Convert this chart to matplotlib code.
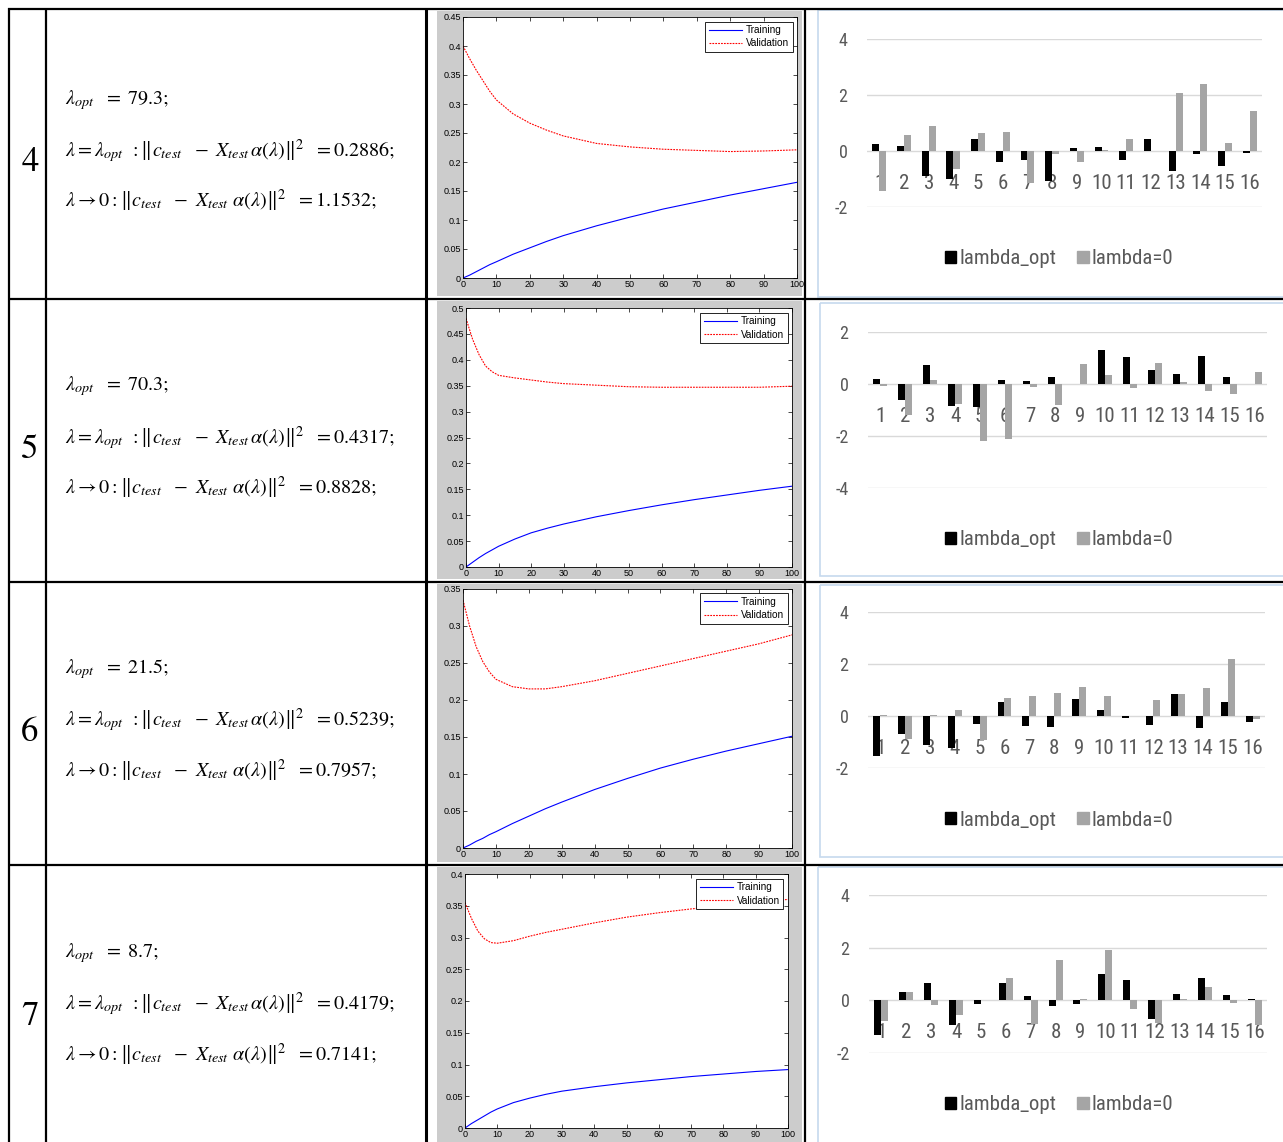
import numpy as np
import matplotlib
matplotlib.use("Agg")
import matplotlib.pyplot as plt
from matplotlib.patches import Rectangle, Patch
from matplotlib.ticker import FuncFormatter
from matplotlib import font_manager as fm

W, H, DPI = 1283, 1142, 100
plt.rcParams['mathtext.fontset'] = 'stix'
plt.rcParams['axes.unicode_minus'] = False

# ---------------- data ----------------
row_ids = [4, 5, 6, 7]
lambda_opt = ['79.3', '70.3', '21.5', '8.7']
err_opt = ['0.2886', '0.4317', '0.5239', '0.4179']
err_zero = ['1.1532', '0.8828', '0.7957', '0.7141']

curve_x = [0, 2, 4, 6, 8, 10, 15, 20, 25, 30, 40, 50, 60, 70, 80, 90, 100]

train_4 = [0, 0.005, 0.011, 0.017, 0.023, 0.028, 0.041, 0.052, 0.063, 0.073,
           0.090, 0.105, 0.119, 0.131, 0.143, 0.154, 0.165]
valid_4 = [0.400, 0.378, 0.358, 0.340, 0.322, 0.307, 0.283, 0.267, 0.255, 0.245,
           0.232, 0.226, 0.222, 0.220, 0.218, 0.219, 0.221]
train_5 = [0, 0.009, 0.018, 0.026, 0.033, 0.040, 0.054, 0.066, 0.075, 0.083,
           0.097, 0.109, 0.120, 0.130, 0.139, 0.148, 0.156]
valid_5 = [0.480, 0.440, 0.410, 0.388, 0.377, 0.370, 0.365, 0.361, 0.357, 0.354,
           0.351, 0.348, 0.347, 0.347, 0.347, 0.347, 0.349]
train_6 = [0, 0.004, 0.009, 0.013, 0.018, 0.022, 0.033, 0.043, 0.053, 0.062,
           0.079, 0.094, 0.108, 0.120, 0.131, 0.141, 0.151]
valid_6 = [0.335, 0.300, 0.272, 0.252, 0.238, 0.228, 0.218, 0.215, 0.215, 0.218,
           0.226, 0.236, 0.246, 0.256, 0.266, 0.276, 0.288]
train_7 = [0, 0.007, 0.013, 0.019, 0.025, 0.030, 0.040, 0.047, 0.053, 0.058,
           0.065, 0.071, 0.076, 0.081, 0.085, 0.089, 0.092]
valid_7 = [0.355, 0.330, 0.310, 0.298, 0.292, 0.291, 0.295, 0.302, 0.308, 0.313,
           0.323, 0.332, 0.339, 0.345, 0.350, 0.355, 0.360]
curve_ymax = [0.45, 0.5, 0.35, 0.4]

coef_labels = [str(i) for i in range(1, 17)]
opt_4 = [0.24, 0.18, -0.89, -0.99, 0.44, -0.39, -0.30, -1.07,
         0.11, 0.15, -0.30, 0.44, -0.71, -0.10, -0.52, -0.07]
zero_4 = [-1.43, 0.57, 0.89, -0.62, 0.65, 0.70, -1.13, -0.10,
          -0.39, 0.06, 0.43, 0.0, 2.06, 2.38, 0.30, 1.45]
opt_5 = [0.19, -0.62, 0.73, -0.87, -0.90, 0.15, 0.09, 0.26,
         0.0, 1.31, 1.01, 0.53, 0.38, 1.06, 0.24, 0.0]
zero_5 = [-0.10, -1.19, 0.15, -0.77, -2.22, -2.13, -0.13, -0.81,
          0.77, 0.33, -0.17, 0.81, 0.06, -0.27, -0.38, 0.44]
opt_6 = [-1.55, -0.72, -1.14, -1.24, -0.30, 0.52, -0.39, -0.43,
         0.63, 0.22, -0.08, -0.34, 0.83, -0.46, 0.54, -0.23]
zero_6 = [0.05, -0.88, 0.05, 0.22, -0.94, 0.67, 0.76, 0.86,
          1.10, 0.76, 0.0, 0.61, 0.85, 1.06, 2.19, -0.13]
opt_7 = [-1.33, 0.32, 0.67, -0.95, -0.13, 0.67, 0.16, -0.23,
         -0.13, 1.01, 0.76, -0.70, 0.25, 0.85, 0.22, 0.06]
zero_7 = [-0.78, 0.32, -0.16, -0.54, 0.0, 0.85, -0.89, 1.54,
          0.06, 1.90, -0.32, -0.86, 0.06, 0.51, -0.10, -0.95]
bar_ylim = [(-2, 4), (-4, 2), (-2, 4), (-2, 4)]
bar_yticks = [[-2, 0, 2, 4], [-4, -2, 0, 2], [-2, 0, 2, 4], [-2, 0, 2, 4]]

trains = [train_4, train_5, train_6, train_7]
valids = [valid_4, valid_5, valid_6, valid_7]
opts = [opt_4, opt_5, opt_6, opt_7]
zeros = [zero_4, zero_5, zero_6, zero_7]

# ---------------- layout (pixel boxes) ----------------
row_edges = [9, 299, 582, 865, 1150]
col_lines = [9, 46, 426, 805]
line_axes = [(463, 17, 797, 278), (466, 308, 792, 567),
             (463, 589, 792, 848), (465, 874, 788, 1128)]
bar_axes = [(867, 39, 1262, 207.3), (868, 331.7, 1267, 487.7),
            (868, 612, 1265, 767.7), (869, 895, 1267, 1053)]
bar_frames = [(818, 10, 1295, 297), (820, 303, 1295, 576),
              (820, 585, 1295, 857), (818, 867, 1295, 1150)]
legend_y = [259, 540, 820, 1105]
EXCEL_TEXT = '#595959'


def narrow_font_path():
    """Regular-weight condensed sans face, if one is installed."""
    cond = ('condensed', 'semi-condensed', 'extra-condensed', 'ultra-condensed')
    best = None
    for f in fm.fontManager.ttflist:
        name = f.name.lower()
        is_narrow = ('narrow' in name or 'condensed' in name
                     or str(f.stretch).lower() in cond
                     or (isinstance(f.stretch, (int, float)) and f.stretch < 500))
        if not is_narrow or f.style != 'normal':
            continue
        if f.weight not in (400, 'normal', 'regular', 'book'):
            continue
        if 'mono' in name or 'serif' in name and 'sans' not in name:
            continue
        best = f.fname
        if 'liberation' in name:
            break
    return best


_np = narrow_font_path()
if _np:
    def excel_font(size):
        return fm.FontProperties(fname=_np, size=size)
    cat_size, ylab_size, leg_size = 15, 13, 15
else:
    def excel_font(size):
        return fm.FontProperties(family='Liberation Sans', size=size)
    cat_size, ylab_size, leg_size = 12.5, 12, 13.5


def rect(x0, y0, x1, y1):
    return [x0 / W, 1 - y1 / H, (x1 - x0) / W, (y1 - y0) / H]


fig = plt.figure(figsize=(W / DPI, H / DPI), dpi=DPI)
bg = fig.add_axes([0, 0, 1, 1])
bg.set_xlim(0, W)
bg.set_ylim(H, 0)
bg.axis('off')

for i in range(4):
    top, bot = row_edges[i], row_edges[i + 1]
    mid = (top + bot) / 2
    # row number
    bg.text(30, mid + 9, str(row_ids[i]), fontsize=25, family='STIXGeneral',
            ha='center', va='center')
    # formulas
    bg.text(65, mid - 54, r"$\lambda_{opt}\ \ =\ %s;$" % lambda_opt[i],
            fontsize=14.5, va='center', ha='left')
    bg.text(65, mid - 3,
            r"$\lambda = \lambda_{opt}\ \,:\left\Vert c_{test}\ \ -\ X_{test}\,\alpha(\lambda)\right\Vert^{2}\ \ = %s;$"
            % err_opt[i],
            fontsize=14.5, va='center', ha='left')
    bg.text(65, mid + 47,
            r"$\lambda \rightarrow 0:\left\Vert c_{test}\ \ -\ X_{test}\ \alpha(\lambda)\right\Vert^{2}\ \ = %s;$"
            % err_zero[i],
            fontsize=14.5, va='center', ha='left')
    # MATLAB figure background
    bg.add_patch(Rectangle((437, top + 2), 365, bot - top - 5, color='#cccccc', lw=0))
    # Excel chart frame
    fx0, fy0, fx1, fy1 = bar_frames[i]
    bg.add_patch(Rectangle((fx0, fy0), fx1 - fx0, fy1 - fy0, fill=False,
                           edgecolor='#c6d9ee', lw=1.2))

# ---------------- training / validation curves ----------------
for i in range(4):
    ax = fig.add_axes(rect(*line_axes[i]))
    ax.plot(curve_x, trains[i], color='blue', lw=0.8, label='Training')
    ax.plot(curve_x, valids[i], color='red', lw=0.8, linestyle=(0, (1.6, 1.0)),
            label='Validation')
    ax.set_xlim(0, 100)
    ax.set_ylim(0, curve_ymax[i])
    ax.set_xticks(np.arange(0, 101, 10))
    ax.set_yticks(np.arange(0, curve_ymax[i] + 1e-9, 0.05))
    ax.yaxis.set_major_formatter(FuncFormatter(lambda v, p: '%g' % round(v, 2)))
    ax.tick_params(direction='in', top=True, right=True, length=3, width=0.5,
                   labelsize=6.5, pad=1.5, colors='black')
    for lab in ax.get_xticklabels() + ax.get_yticklabels():
        lab.set_family('Liberation Sans')
    for s in ax.spines.values():
        s.set_linewidth(0.6)
    leg = ax.legend(loc='upper right', handlelength=3.3,
                    handletextpad=0.4, borderpad=0.35, labelspacing=0.35,
                    fancybox=False, framealpha=1, borderaxespad=0.45,
                    prop={'family': 'Liberation Sans', 'size': 7.2})
    leg.get_frame().set_edgecolor('black')
    leg.get_frame().set_linewidth(0.6)

# ---------------- coefficient bars ----------------
xpos = np.arange(len(coef_labels))
bw = 0.28
for i in range(4):
    ax = fig.add_axes(rect(*bar_axes[i]))
    ax.bar(xpos - bw / 2, opts[i], bw, color='black', label='lambda_opt')
    ax.bar(xpos + bw / 2, zeros[i], bw, color='#a5a5a5', label='lambda=0')
    ax.set_xlim(-0.5, 15.5)
    ax.set_ylim(*bar_ylim[i])
    ax.set_yticks(bar_yticks[i])
    ax.set_axisbelow(True)
    ax.yaxis.grid(True, color='#d9d9d9', lw=1.0)
    for s in ['top', 'right', 'left']:
        ax.spines[s].set_visible(False)
    ax.spines['bottom'].set_position(('data', 0))
    ax.spines['bottom'].set_color('none')
    ax.set_xticks(xpos)
    ax.set_xticklabels(coef_labels)
    ax.tick_params(axis='x', length=0, pad=16.5, labelcolor=EXCEL_TEXT)
    ax.tick_params(axis='y', length=0, pad=14, labelcolor=EXCEL_TEXT)
    for lab in ax.get_xticklabels():
        lab.set_fontproperties(excel_font(cat_size))
    for lab in ax.get_yticklabels():
        lab.set_fontproperties(excel_font(ylab_size))
    handles = [Patch(color='black'), Patch(color='#a5a5a5')]
    ax.legend(handles, ['lambda_opt', 'lambda=0'], loc='center', ncol=2,
              bbox_to_anchor=(1059 / W, 1 - legend_y[i] / H),
              bbox_transform=fig.transFigure, frameon=False,
              handlelength=0.55, handleheight=0.55, handletextpad=0.15,
              columnspacing=1.0, labelcolor=EXCEL_TEXT,
              prop=excel_font(leg_size))

# ---------------- table rules ----------------
over = fig.add_axes([0, 0, 1, 1], zorder=10)
over.set_xlim(0, W)
over.set_ylim(H, 0)
over.axis('off')
over.patch.set_visible(False)
for y in row_edges[:-1]:
    over.plot([8, W + 5], [y, y], color='black', lw=1.6, solid_capstyle='butt')
for x in col_lines:
    lw = 2.2 if x == 426 else 1.6
    over.plot([x, x], [8, H + 5], color='black', lw=lw, solid_capstyle='butt')

fig.savefig('out.png', dpi=DPI)
